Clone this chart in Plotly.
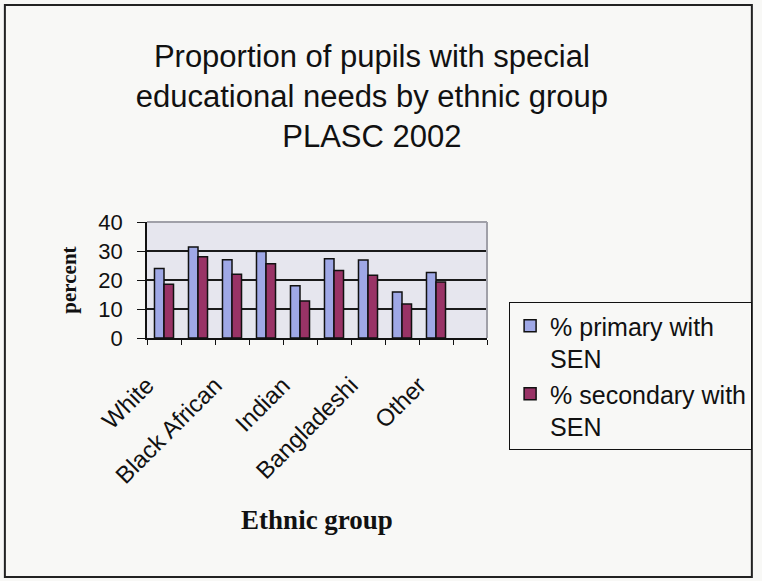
import plotly.graph_objects as go

# Ethnic groups (every other name is printed on the axis)
groups = ["White", "Black Caribbean", "Black African", "Black Other", "Indian",
          "Pakistani", "Bangladeshi", "Chinese", "Other"]
shown_labels = ["White", "", "Black African", "", "Indian", "",
                "Bangladeshi", "", "Other", ""]
axis_slots = groups + [" "]

primary_sen = [24.0, 31.4, 27.0, 29.8, 18.0, 27.3, 26.9, 15.9, 22.6]
secondary_sen = [18.5, 28.0, 22.0, 25.6, 12.8, 23.3, 21.6, 11.7, 19.3]

text_font = "Liberation Sans, Arial, sans-serif"
serif_font = "Liberation Serif, Times New Roman, serif"

fig = go.Figure()
fig.add_trace(go.Bar(
    x=groups, y=primary_sen, name="% primary with<br>SEN",
    marker=dict(color="#9fa8e6", line=dict(color="#111111", width=1.5)),
))
fig.add_trace(go.Bar(
    x=groups, y=secondary_sen, name="% secondary with<br>SEN",
    marker=dict(color="#993366", line=dict(color="#111111", width=1.5)),
))

fig.update_layout(
    width=762, height=581,
    margin=dict(l=147, r=275, t=222, b=243, autoexpand=False),
    paper_bgcolor="#f8f8f6",
    plot_bgcolor="#e6e6ee",
    barmode="group", bargap=0.44, bargroupgap=0.0,
    font=dict(family=text_font, color="#111111", size=22),
    title=dict(
        text="Proportion of pupils with special<br>educational needs by ethnic group<br>PLASC 2002",
        font=dict(family=text_font, size=31, color="#111111"),
        x=0.488, xanchor="center", y=0.885, yanchor="top",
    ),
    legend=dict(
        x=1.065, xanchor="left", y=0.31, yanchor="top",
        bgcolor="#f8f8f6", bordercolor="#111111", borderwidth=1,
        font=dict(family=text_font, size=25, color="#111111"),
        valign="top", tracegroupgap=2, maxheight=300,
    ),
    xaxis=dict(
        type="category", categoryorder="array", categoryarray=axis_slots,
        range=[-0.5, 9.5],
        tickmode="array", tickvals=axis_slots, ticktext=shown_labels,
        tickson="boundaries", ticks="outside", ticklen=5, tickcolor="#111111",
        tickangle=-45, tickfont=dict(size=24),
        ticklabelstandoff=22, ticklabelshift=-17,
        showline=True, linecolor="#111111", linewidth=1.5,
        showgrid=False,
        title=dict(text="<b>Ethnic group</b>",
                   font=dict(family=serif_font, size=27, color="#111111"),
                   standoff=22),
    ),
    yaxis=dict(
        range=[0, 40], tickvals=[0, 10, 20, 30, 40],
        ticks="outside", ticklen=8, tickcolor="#111111",
        tickfont=dict(size=22), ticklabelstandoff=10,
        showline=True, linecolor="#111111", linewidth=1.5,
        showgrid=True, gridcolor="#1a1a1a", gridwidth=1.5,
        zeroline=False,
        title=dict(text="<b>percent</b>",
                   font=dict(family=serif_font, size=21, color="#111111"),
                   standoff=16),
    ),
    shapes=[
        # grey frame along the top and right of the plotting area
        dict(type="line", xref="paper", yref="paper", x0=0, x1=1, y0=1, y1=1,
             line=dict(color="#a0a0a8", width=2), layer="above"),
        dict(type="line", xref="paper", yref="paper", x0=1, x1=1, y0=0, y1=1,
             line=dict(color="#a0a0a8", width=2), layer="above"),
        # outer chart border
        dict(type="rect", xref="paper", yref="paper",
             x0=-0.418, x1=1.779, y0=-2.06, y1=2.871,
             line=dict(color="#222222", width=2), layer="below"),
    ],
)

fig.write_html("out.html")
